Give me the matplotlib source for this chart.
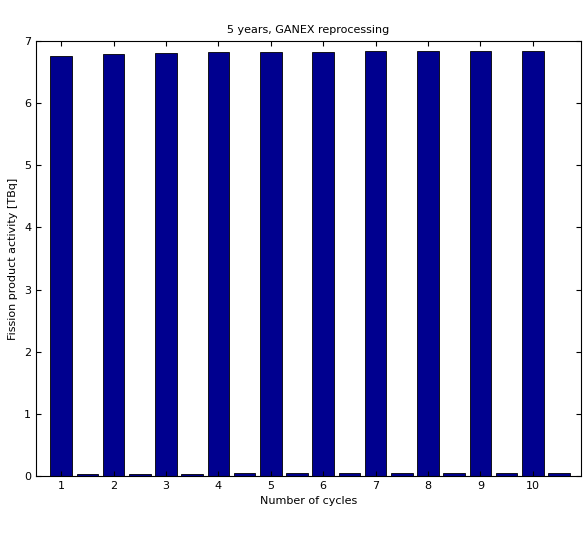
import numpy as np
import matplotlib.pyplot as plt

# bar data
cycles = np.arange(1, 11)
after_reproc = [6.76, 6.79, 6.81, 6.82, 6.83, 6.83, 6.84, 6.84, 6.84, 6.84]
removed = [0.03, 0.03, 0.04, 0.05, 0.05, 0.05, 0.05, 0.05, 0.05, 0.05]

fig = plt.figure(figsize=(5.88, 5.35), dpi=100)
ax = fig.add_axes([36 / 588, 59 / 535, 545 / 588, 435 / 535])

ax.bar(cycles, after_reproc, width=0.41, color='#00008f', edgecolor='black', linewidth=0.6)
ax.bar(cycles + 0.5, removed, width=0.41, color='#00008f', edgecolor='black', linewidth=0.6)

ax.set_xlim(0.52, 10.92)
ax.set_ylim(0, 7)
ax.set_xticks(cycles)
ax.set_yticks(range(8))
ax.tick_params(labelsize=8, direction='in', top=True, right=True)
ax.set_xlabel('Number of cycles', fontsize=8)
ax.set_ylabel('Fission product activity [TBq]', fontsize=8)
ax.set_title('5 years, GANEX reprocessing', fontsize=8)

fig.savefig('out.png', dpi=100)
